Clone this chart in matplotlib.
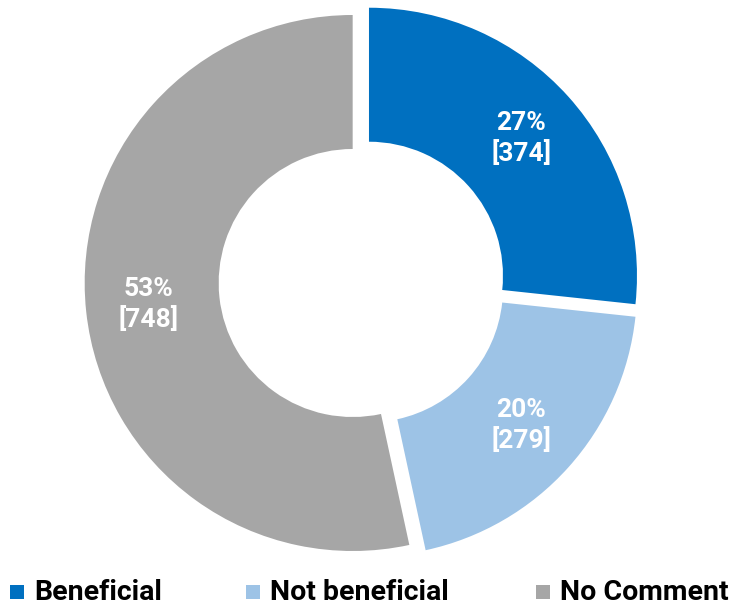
import matplotlib.pyplot as plt
from matplotlib.patches import Rectangle

labels = ["Beneficial", "Not beneficial", "No Comment"]
counts = [374, 279, 748]
percents = [27, 20, 53]
colors = ["#0070C0", "#9DC3E6", "#A6A6A6"]

plt.rcParams["font.family"] = ["Roboto", "DejaVu Sans"]

fig = plt.figure(figsize=(7.33, 6.04), dpi=100)
ax = fig.add_axes([0, 0, 1, 1])

wedges, texts, autotexts = ax.pie(
    counts, colors=colors, startangle=90, counterclock=False,
    explode=[0.035] * 3, radius=1.0,
    wedgeprops=dict(width=0.5, edgecolor="none"),
    autopct=lambda p: "", pctdistance=0.765,
)

# pie centre sits at (362, 282) px with a 268 px radius
R = 268.0
cx, cy = 362.0, 282.0
ax.set_xlim(-cx / R, (733 - cx) / R)
ax.set_ylim(-(604 - cy) / R, cy / R)
ax.set_aspect("equal")
ax.axis("off")

for t, pct, n in zip(autotexts, percents, counts):
    t.set_text(f"{pct}%\n[{n}]")
    t.set_color("white")
    t.set_fontsize(19)
    t.set_fontweight("bold")
    t.set_linespacing(1.25)

# legend along the bottom edge
leg_x = [10, 246, 536]
leg_y = 1 - 592 / 604
sq = 14 / 733
for x, lab, col in zip(leg_x, labels, colors):
    fig.patches.append(Rectangle((x / 733, leg_y - 7 / 604), sq, 14 / 604,
                                 transform=fig.transFigure, facecolor=col,
                                 edgecolor="none"))
    fig.text((x + 24) / 733, leg_y, lab, fontsize=20.5, fontweight="bold",
             color="black", va="center", ha="left")

fig.savefig("out.png", dpi=100)
